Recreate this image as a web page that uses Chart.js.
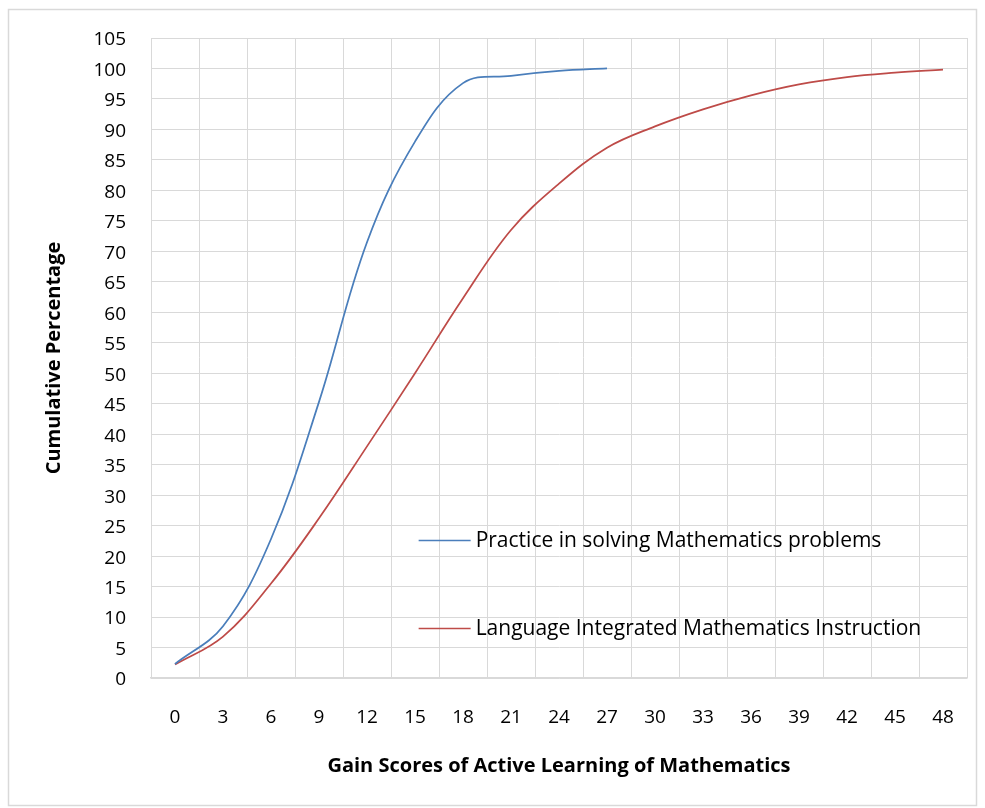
<!DOCTYPE html>
<html>
<head>
<meta charset="utf-8">
<script src="https://cdn.jsdelivr.net/npm/chart.js@4/dist/chart.umd.min.js"></script>
<style>
  html, body { margin: 0; padding: 0; background: #ffffff; }
  #wrap { width: 985px; height: 808px; position: relative; }
</style>
</head>
<body>
<div id="wrap"><canvas id="c" width="985" height="808"></canvas></div>
<script>
// ---- data ----
const categories = ['0','3','6','9','12','15','18','21','24','27','30','33','36','39','42','45','48'];
const practiceLabel = 'Practice in solving Mathematics problems';
const practiceValues = [2.3, 8.5, 22.8, 45.3, 71.5, 88.0, 97.6, 98.8, 99.6, 100];
const limiLabel = 'Language Integrated Mathematics Instruction';
const limiValues = [2.2, 6.8, 15.5, 26.2, 38.0, 50.0, 62.3, 73.5, 81.1, 87.0, 90.5, 93.3, 95.6, 97.4, 98.6, 99.3, 99.8];
const yMin = 0, yMax = 105, yStep = 5;
const xTitle = 'Gain Scores of Active Learning of Mathematics';
const yTitle = 'Cumulative Percentage';

const FONT = "'Open Sans', 'DejaVu Sans', sans-serif";
const GRID = '#d9d9d9';
const BLUE = '#4A7EBB';
const RED = '#BE4B48';

const frame = {
  id: 'frame',
  beforeDraw(chart) {
    const ctx = chart.ctx;
    ctx.save();
    ctx.fillStyle = '#ffffff';
    ctx.fillRect(0, 0, chart.width, chart.height);
    ctx.strokeStyle = GRID;
    ctx.lineWidth = 1.5;
    ctx.strokeRect(8.5, 9.5, 968, 796);
    ctx.restore();
  }
};

const insideLegend = {
  id: 'insideLegend',
  afterDatasetsDraw(chart) {
    const ctx = chart.ctx;
    const a = chart.chartArea;
    const x0 = a.left + (a.right - a.left) * 0.328;
    const rows = [a.top + (a.bottom - a.top) * 0.785, a.top + (a.bottom - a.top) * 0.922];
    ctx.save();
    chart.data.datasets.forEach((ds, i) => {
      const y = Math.round(rows[i]) + 0.5;
      ctx.strokeStyle = ds.borderColor;
      ctx.lineWidth = 1.5;
      ctx.beginPath();
      ctx.moveTo(x0, y);
      ctx.lineTo(x0 + 52, y);
      ctx.stroke();
      ctx.fillStyle = '#000000';
      ctx.font = "21px " + FONT;
      ctx.textBaseline = 'middle';
      ctx.textAlign = 'left';
      ctx.fillText(ds.label, x0 + 57, y + 1);
    });
    ctx.restore();
  }
};

new Chart(document.getElementById('c'), {
  type: 'line',
  data: {
    labels: categories,
    datasets: [
      { label: practiceLabel, data: practiceValues, borderColor: BLUE, backgroundColor: BLUE,
        borderWidth: 1.75, pointRadius: 0, tension: 0.38, fill: false },
      { label: limiLabel, data: limiValues, borderColor: RED, backgroundColor: RED,
        borderWidth: 1.75, pointRadius: 0, tension: 0.38, fill: false }
    ]
  },
  options: {
    responsive: false,
    animation: false,
    layout: { padding: { top: 38, right: 18, bottom: 0, left: 0 } },
    plugins: { legend: { display: false }, tooltip: { enabled: false } },
    scales: {
      x: {
        type: 'category',
        offset: true,
        grid: { color: GRID, lineWidth: 1, offset: true, drawTicks: false },
        border: { color: GRID, width: 1.5 },
        ticks: { color: '#000000', font: { family: FONT, size: 19 }, padding: 28, autoSkip: false, maxRotation: 0 },
        title: { display: true, text: xTitle, color: '#000000',
                 font: { family: FONT, size: 20, weight: 'bold' }, padding: { top: 0, bottom: 30 } },
        afterFit(scale) { scale.height = 130; }
      },
      y: {
        min: yMin, max: yMax,
        grid: { color: GRID, lineWidth: 1, drawTicks: false },
        border: { color: GRID, width: 1 },
        ticks: { stepSize: yStep, color: '#000000', font: { family: FONT, size: 19 }, padding: 25, labelOffset: 2 },
        title: { display: true, text: yTitle, color: '#000000',
                 font: { family: FONT, size: 20, weight: 'bold' }, padding: { top: 42, bottom: 0 } },
        afterFit(scale) { scale.width = 151; }
      }
    }
  },
  plugins: [frame, insideLegend]
});
</script>
</body>
</html>
